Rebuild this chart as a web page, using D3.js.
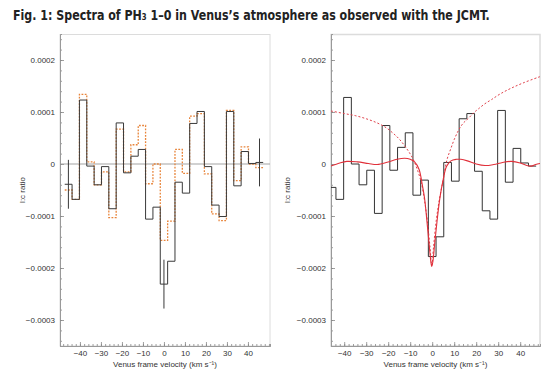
<!DOCTYPE html>
<html>
<head>
<meta charset="utf-8">
<script src="https://cdn.jsdelivr.net/npm/d3@7"></script>
<style>
	body { margin: 0; background: #fff; }
	svg { display: block; }
	text { font-family: 'Liberation Sans', Arial, Helvetica, sans-serif; fill: #333; }
</style>
</head>
<body>
<svg id="chart" width="553" height="383"></svg>
<script>

// l:c ratio values are in units of 1e-4
var aBinVelocity = [-45.5, -42, -38.5, -35, -31.5, -28, -24.5, -21, -17.5, -14, -10.5, -7, -3.5, 0,
	3.5, 7, 10.5, 14, 17.5, 21, 24.5, 28, 31.5, 35, 38.5, 42, 45.5];

var aLeftSpectrum = [-0.39, -0.68, 1.23, -0.04, -0.40, -0.05, -0.86, 0.79, -0.17, 0.15, 0.28, -1.06, -0.83, -2.31,
	-1.87, -0.35, -0.56, 0.78, 1.01, -0.05, -0.79, -1.01, 1.01, -0.42, 0.24, 0.01, 0.03];

var aLeftAltSpectrum = [-0.50, -0.68, 1.34, 0.04, -0.40, -0.15, -1.03, 0.67, -0.15, 0.37, 0.74, -0.38, 0.00, -1.47,
	-1.10, 0.28, -0.18, 0.92, 0.97, -0.19, -0.96, -1.09, 1.03, -0.32, 0.33, 0.00, -0.07];

var aRightSpectrum = [-0.45, -0.68, 1.28, 0.00, -0.40, -0.12, -0.95, 0.74, -0.12, 0.32, 0.60, -0.60, -0.31, -1.78,
	-1.40, 0.03, -0.33, 0.87, 0.97, -0.14, -0.90, -1.06, 1.03, -0.35, 0.30, 0.02, -0.04];

var aErrVelocity = [-45.5, 0, 45.5];
var aErrValue = [-0.39, -2.31, 0.03];
var aErrSize = [0.47, 0.47, 0.46];

var aFitVelocity = [-46, -42, -38.8, -34, -29, -25, -20, -16, -12.5, -10, -8, -6, -4.5, -3.5, -2.5, -1.5, -0.6, -0.2,
	0.3, 1.2, 2.2, 3.5, 5, 6.5, 8.5, 11, 13, 16, 20, 24, 28, 32, 36, 40, 43, 45, 47, 49];
var aFitValue = [-0.04, 0.02, 0.05, 0.04, 0.01, -0.01, 0.04, 0.09, 0.11, 0.09, 0.04, -0.1, -0.4, -0.65, -1.05, -1.5, -1.88, -1.97,
	-1.88, -1.5, -1.1, -0.65, -0.3, -0.05, 0.06, 0.09, 0.09, 0.06, 0.0, -0.03, -0.01, 0.03, 0.05, 0.02, -0.03, -0.04, -0.01, 0.01];

var aWideVelocity = [-46, -40, -35, -30, -25, -21, -18, -15, -12, -9, -7, -5, -3.5, -2.2, -1, -0.2,
	0.6, 1.8, 3.2, 5, 6.7, 8.5, 10, 12, 14, 16.5, 19, 21, 24, 27, 31, 36, 42, 49];
var aWideValue = [1.02, 0.97, 0.93, 0.87, 0.79, 0.70, 0.60, 0.48, 0.32, 0.12, -0.08, -0.35, -0.7, -1.1, -1.6, -1.95,
	-1.6, -1.1, -0.7, -0.3, 0.08, 0.3, 0.47, 0.65, 0.78, 0.88, 0.99, 1.06, 1.16, 1.24, 1.35, 1.46, 1.57, 1.68];

var aYMajorTicks = [-3, -2, -1, 0, 1, 2];
var aYTickLabels = ['\u22120.0003', '\u22120.0002', '\u22120.0001', '0', '0.0001', '0.0002'];
var aXMajorTicks = [-40, -30, -20, -10, 0, 10, 20, 30, 40];
var aXTickLabels = ['\u221240', '\u221230', '\u221220', '\u221210', '0', '10', '20', '30', '40'];

const fBinWidth = 3.5;

var sSvg = d3.select('#chart');
var sDefs = sSvg.append('defs');

// title: squeezed horizontally to the reference width
var sTitle = sSvg.append('text')
	.style('font-family', "'Liberation Sans Narrow', 'DejaVu Sans Condensed', 'Liberation Sans', sans-serif")
	.style('font-weight', 'bold')
	.style('font-size', '14.5px')
	.style('fill', '#222')
	.text('Fig. 1: Spectra of PH\u2083 1\u20130 in Venus\u2019s atmosphere as observed with the JCMT.');
var fTitleWidth = sTitle.node().getComputedTextLength();
sTitle.attr('transform', 'translate(13,20) scale(' + Math.min(1, 477 / fTitleWidth) + ',1)');

function StepPoints(aValues)
{
	var aPts = [];
	aBinVelocity.forEach(function(v, i)
	{
		aPts.push([v - fBinWidth / 2, aValues[i]]);
		aPts.push([v + fBinWidth / 2, aValues[i]]);
	});
	return aPts;
}

function StyleAxis(sAxis)
{
	sAxis.select('.domain').style('stroke', '#999').style('stroke-width', 1);
	sAxis.selectAll('.tick line').style('stroke', '#888').style('stroke-width', 0.8);
	sAxis.selectAll('.tick text')
		.style('font-family', "'Liberation Sans', Arial, sans-serif")
		.style('font-size', '8px')
		.style('fill', '#333');
}

function DrawPanel(aPanel)
{
	var x = d3.scaleLinear().domain(aPanel.xDomain).range([aPanel.x0, aPanel.x1]);
	var y = d3.scaleLinear().domain([-3.5, 2.5]).range([346, 34]);

	var sG = sSvg.append('g');

	sDefs.append('clipPath')
		.attr('id', 'clip-' + aPanel.id)
		.append('rect')
			.attr('x', aPanel.x0)
			.attr('y', 34)
			.attr('width', aPanel.x1 - aPanel.x0)
			.attr('height', 312);

	// light frame
	sG.append('rect')
		.attr('x', aPanel.x0)
		.attr('y', 34.5)
		.attr('width', aPanel.x1 - aPanel.x0)
		.attr('height', 311.5)
		.style('fill', 'none')
		.style('stroke', '#dcdcdc')
		.style('stroke-width', aPanel.frameWidth);

	// minor ticks
	var aYMinor = d3.range(-34, 25, 2).map(function(d) { return d / 10; });
	var aXMinor = d3.range(Math.ceil(aPanel.xDomain[0] / 2) * 2, aPanel.xDomain[1], 2);

	sG.append('g')
		.attr('transform', 'translate(' + aPanel.x0 + ',0)')
		.call(d3.axisLeft(y).tickValues(aYMinor).tickSize(-2).tickFormat(''))
		.call(StyleAxis);
	sG.append('g')
		.attr('transform', 'translate(0,346)')
		.call(d3.axisBottom(x).tickValues(aXMinor).tickSize(-2).tickFormat(''))
		.call(StyleAxis);

	sG.append('g')
		.attr('transform', 'translate(' + aPanel.x0 + ',0)')
		.call(d3.axisLeft(y).tickValues(aYMajorTicks).tickSize(-4).tickSizeOuter(0).tickPadding(5)
			.tickFormat(function(d, i) { return aYTickLabels[i]; }))
		.call(StyleAxis);
	sG.append('g')
		.attr('transform', 'translate(0,346)')
		.call(d3.axisBottom(x).tickValues(aXMajorTicks).tickSize(-4).tickSizeOuter(0).tickPadding(4)
			.tickFormat(function(d, i) { return aXTickLabels[i]; }))
		.call(StyleAxis);

	// axis titles
	sG.append('text')
		.attr('x', (aPanel.x0 + aPanel.x1) / 2)
		.attr('y', 367)
		.attr('text-anchor', 'middle')
		.style('font-size', '8px')
		.text('Venus frame velocity (km s\u207B\u00B9)');

	sG.append('text')
		.attr('transform', 'translate(' + aPanel.yTitleX + ',190) rotate(-90)')
		.attr('text-anchor', 'middle')
		.style('font-size', '8px')
		.text('l:c ratio');

	var sPlot = sG.append('g').attr('clip-path', 'url(#clip-' + aPanel.id + ')');

	if (aPanel.zeroLine)
	{
		sPlot.append('line')
			.attr('x1', aPanel.x0).attr('x2', aPanel.x1)
			.attr('y1', y(0)).attr('y2', y(0))
			.style('stroke', '#999')
			.style('stroke-width', 0.9);
	}

	var fnLine = d3.line()
		.x(function(d) { return x(d[0]); })
		.y(function(d) { return y(d[1]); });

	var fnCurve = d3.line()
		.x(function(d) { return x(d[0]); })
		.y(function(d) { return y(d[1]); })
		.curve(d3.curveCatmullRom.alpha(0.5));

	aPanel.draw(sPlot, x, y, fnLine, fnCurve);
}

DrawPanel({
	id: 'left', x0: 60, x1: 270, xDomain: [-49.5, 50.5], yTitleX: 25, zeroLine: true, frameWidth: 1,
	draw: function(sPlot, x, y, fnLine)
	{
		sPlot.append('path')
			.attr('d', fnLine(StepPoints(aLeftAltSpectrum)))
			.style('fill', 'none')
			.style('stroke', '#e8843a')
			.style('stroke-width', 1.3)
			.style('stroke-dasharray', '1.8,1.4');

		sPlot.append('path')
			.attr('d', fnLine(StepPoints(aLeftSpectrum)))
			.style('fill', 'none')
			.style('stroke', '#3a3a3a')
			.style('stroke-width', 1);

		sPlot.selectAll('.errbar')
			.data(aErrVelocity)
			.enter()
				.append('line')
				.attr('class', 'errbar')
				.attr('x1', function(d) { return x(d); })
				.attr('x2', function(d) { return x(d); })
				.attr('y1', function(d, i) { return y(aErrValue[i] + aErrSize[i]); })
				.attr('y2', function(d, i) { return y(aErrValue[i] - aErrSize[i]); })
				.style('stroke', '#3a3a3a')
				.style('stroke-width', 1);
	}
});

DrawPanel({
	id: 'right', x0: 331, x1: 540, xDomain: [-46, 49], yTitleX: 290, zeroLine: false, frameWidth: 1.5,
	draw: function(sPlot, x, y, fnLine, fnCurve)
	{
		sPlot.append('path')
			.attr('d', fnLine(StepPoints(aRightSpectrum)))
			.style('fill', 'none')
			.style('stroke', '#333')
			.style('stroke-width', 1);

		sPlot.append('path')
			.attr('d', fnCurve(aWideVelocity.map(function(v, i) { return [v, aWideValue[i]]; })))
			.style('fill', 'none')
			.style('stroke', '#e0404a')
			.style('stroke-width', 1)
			.style('stroke-dasharray', '2,2');

		sPlot.append('path')
			.attr('d', fnCurve(aFitVelocity.map(function(v, i) { return [v, aFitValue[i]]; })))
			.style('fill', 'none')
			.style('stroke', '#e0303a')
			.style('stroke-width', 1.1);
	}
});

</script>
</body>
</html>
